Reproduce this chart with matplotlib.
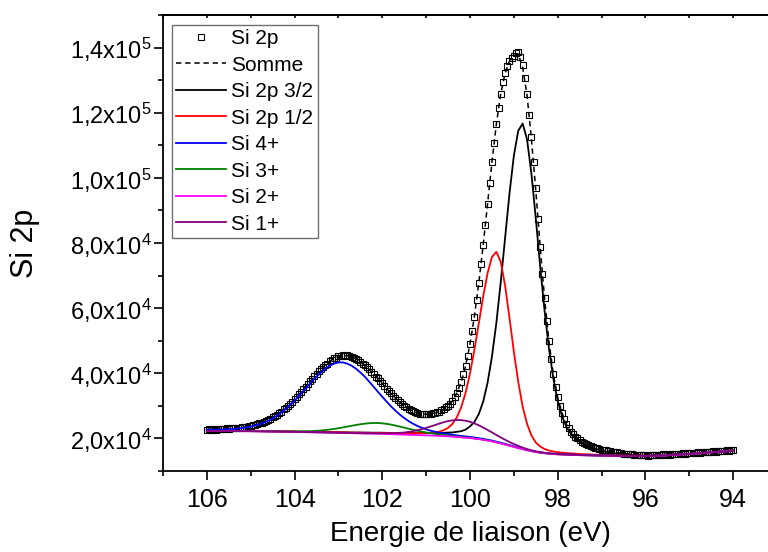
import numpy as np
import matplotlib
matplotlib.use("Agg")
import matplotlib.pyplot as plt
from matplotlib.ticker import MultipleLocator, FuncFormatter

plt.rcParams['font.family'] = ['Liberation Sans', 'DejaVu Sans']
plt.rcParams['mathtext.fontset'] = 'custom'
plt.rcParams['mathtext.rm'] = 'Liberation Sans'
plt.rcParams['mathtext.default'] = 'regular'

# measured spectrum, 106 -> 94 eV, step 0.05 eV (counts / 1000)
si2p_data = [
    22.6,
    22.8, 22.7, 22.9, 22.7, 22.8, 23.0, 22.8, 22.9, 23.1, 22.9, 23.1, 23.2, 23.1, 23.3, 23.2, 23.5, 23.5, 23.6, 23.8, 23.8,
    24.1, 24.1, 24.4, 24.6, 24.8, 25.1, 25.4, 25.7, 26.0, 26.5, 26.8, 27.3, 27.8, 28.2, 28.9, 29.4, 30.0, 30.7, 31.3, 32.1,
    32.7, 33.5, 34.2, 35.1, 35.8, 36.6, 37.5, 38.2, 39.1, 39.7, 40.6, 41.2, 41.9, 42.6, 43.0, 43.7, 44.1, 44.6, 44.8, 45.2,
    45.3, 45.5, 45.3, 45.5, 45.2, 45.1, 44.7, 44.5, 44.0, 43.6, 43.0, 42.6, 41.8, 41.3, 40.5, 39.9, 39.0, 38.4, 37.5, 36.9,
    36.0, 35.3, 34.6, 33.8, 33.0, 32.4, 31.7, 31.1, 30.5, 30.0, 29.5, 29.1, 28.6, 28.4, 28.0, 27.9, 27.6, 27.5, 27.4, 27.4,
    27.5, 27.5, 27.7, 27.8, 28.0, 28.2, 28.6, 28.9, 29.5, 30.1, 30.7, 31.6, 32.6, 34.0, 35.5, 37.4, 39.7, 42.3, 45.4, 49.0,
    53.0, 57.4, 62.4, 67.7, 73.4, 79.3, 85.6, 92.0, 98.5, 104.8, 110.8, 116.4, 121.4, 125.8, 129.3, 132.1, 134.3, 135.8, 136.8, 137.4,
    138.3, 138.5, 137.2, 134.6, 130.6, 125.6, 119.4, 112.4, 104.8, 96.9, 87.5, 78.8, 70.6, 63.0, 56.0, 49.8, 44.4, 39.8, 35.9, 32.7,
    30.0, 27.8, 26.0, 24.4, 23.2, 22.1, 21.3, 20.5, 20.0, 19.5, 19.0, 18.6, 18.3, 18.0, 17.7, 17.5, 17.2, 17.0, 16.8, 16.6,
    16.5, 16.3, 16.1, 16.0, 15.9, 15.7, 15.7, 15.5, 15.5, 15.3, 15.3, 15.2, 15.1, 15.1, 15.0, 15.0, 14.9, 15.0, 14.8, 14.9,
    14.7, 14.9, 14.8, 15.0, 14.9, 15.0, 14.9, 15.1, 15.0, 15.1, 15.0, 15.2, 15.1, 15.2, 15.3, 15.2, 15.4, 15.3, 15.5, 15.4,
    15.6, 15.5, 15.6, 15.7, 15.6, 15.8, 15.7, 15.9, 15.8, 15.9, 16.0, 15.9, 16.1, 16.0, 16.2, 16.1, 16.3, 16.2, 16.4, 16.3,
]

# fit curves, 106 -> 94 eV, step 0.1 eV (counts / 1000)
somme = [
    22.77, 22.79, 22.84, 22.88, 22.96, 23.02, 23.12, 23.24, 23.39, 23.60,
    23.85, 24.17, 24.57, 25.07, 25.69, 26.41, 27.27, 28.28, 29.39, 30.65,
    32.01, 33.49, 35.02, 36.61, 38.23, 39.78, 41.21, 42.54, 43.67, 44.55,
    45.17, 45.47, 45.40, 45.06, 44.45, 43.58, 42.56, 41.23, 39.85, 38.35,
    36.83, 35.30, 33.79, 32.38, 31.11, 29.99, 29.07, 28.34, 27.84, 27.52,
    27.41, 27.50, 27.77, 28.22, 28.94, 30.09, 31.55, 33.97, 37.37, 42.26,
    48.99, 57.40, 67.65, 79.34, 91.98, 104.76, 116.44, 125.77, 132.09, 135.83,
    137.50, 138.00, 134.00, 125.40, 112.00, 96.20, 78.80, 63.00, 49.80, 39.80,
    32.60, 27.70, 24.30, 22.11, 20.51, 19.50, 18.63, 17.96, 17.49, 17.04,
    16.64, 16.29, 16.00, 15.76, 15.54, 15.36, 15.23, 15.12, 15.03, 14.96,
    14.90, 14.92, 14.96, 15.00, 15.03, 15.07, 15.12, 15.20, 15.28, 15.36,
    15.43, 15.52, 15.62, 15.70, 15.79, 15.89, 15.99, 16.07, 16.17, 16.27,
    16.37,
]
si2p_32 = [
    22.37, 22.36, 22.36, 22.35, 22.35, 22.34, 22.33, 22.32, 22.31, 22.30,
    22.29, 22.27, 22.26, 22.24, 22.23, 22.21, 22.20, 22.18, 22.17, 22.15,
    22.13, 22.11, 22.08, 22.06, 22.04, 22.02, 21.99, 21.97, 21.95, 21.93,
    21.90, 21.88, 21.86, 21.84, 21.82, 21.81, 21.79, 21.77, 21.76, 21.76,
    21.75, 21.72, 21.70, 21.67, 21.65, 21.62, 21.63, 21.63, 21.63, 21.64,
    21.66, 21.67, 21.68, 21.67, 21.71, 21.80, 21.84, 22.03, 22.22, 22.71,
    23.70, 25.04, 27.48, 31.28, 37.04, 45.10, 55.38, 67.86, 81.52, 95.16,
    106.80, 114.44, 116.68, 111.86, 101.38, 87.60, 72.82, 59.24, 47.60, 38.40,
    31.50, 26.75, 23.50, 21.45, 19.90, 18.95, 18.12, 17.49, 17.06, 16.63,
    16.25, 15.93, 15.66, 15.44, 15.24, 15.08, 14.96, 14.86, 14.79, 14.73,
    14.68, 14.71, 14.75, 14.80, 14.85, 14.90, 14.97, 15.05, 15.13, 15.21,
    15.29, 15.38, 15.48, 15.58, 15.67, 15.77, 15.87, 15.97, 16.07, 16.17,
    16.26,
]
si2p_12 = [
    22.35, 22.34, 22.34, 22.33, 22.33, 22.32, 22.31, 22.30, 22.29, 22.28,
    22.26, 22.25, 22.23, 22.21, 22.20, 22.18, 22.16, 22.14, 22.12, 22.11,
    22.09, 22.07, 22.04, 22.02, 21.99, 21.97, 21.94, 21.92, 21.89, 21.87,
    21.85, 21.83, 21.80, 21.78, 21.76, 21.75, 21.73, 21.71, 21.70, 21.69,
    21.68, 21.66, 21.63, 21.61, 21.59, 21.58, 21.58, 21.58, 21.60, 21.63,
    21.68, 21.74, 21.87, 22.10, 22.53, 23.25, 24.46, 26.48, 29.60, 34.04,
    39.94, 47.22, 55.34, 63.53, 70.70, 75.70, 77.28, 74.25, 66.96, 57.04,
    46.65, 37.34, 29.84, 24.51, 20.94, 18.76, 17.52, 16.74, 16.28, 16.00,
    15.77, 15.63, 15.51, 15.41, 15.32, 15.22, 15.16, 15.10, 15.04, 14.99,
    14.94, 14.90, 14.86, 14.82, 14.79, 14.76, 14.74, 14.72, 14.70, 14.68,
    14.67, 14.71, 14.75, 14.80, 14.84, 14.89, 14.96, 15.04, 15.12, 15.20,
    15.27, 15.37, 15.47, 15.56, 15.66, 15.76, 15.86, 15.96, 16.06, 16.15,
    16.25,
]
si4 = [
    22.62, 22.64, 22.67, 22.71, 22.76, 22.82, 22.92, 23.03, 23.18, 23.38,
    23.64, 23.95, 24.34, 24.83, 25.43, 26.14, 26.98, 27.97, 29.06, 30.29,
    31.62, 33.05, 34.53, 36.03, 37.54, 38.97, 40.27, 41.41, 42.33, 42.97,
    43.33, 43.34, 42.97, 42.33, 41.41, 40.24, 38.98, 37.45, 35.91, 34.32,
    32.78, 31.28, 29.83, 28.52, 27.32, 26.26, 25.32, 24.52, 23.85, 23.27,
    22.79, 22.39, 22.05, 21.77, 21.53, 21.35, 21.12, 20.94, 20.76, 20.61,
    20.46, 20.27, 20.08, 19.86, 19.60, 19.35, 19.01, 18.68, 18.33, 17.96,
    17.59, 17.22, 16.85, 16.52, 16.24, 15.95, 15.76, 15.58, 15.43, 15.33,
    15.22, 15.17, 15.11, 15.06, 15.00, 14.95, 14.92, 14.88, 14.85, 14.82,
    14.79, 14.76, 14.74, 14.72, 14.69, 14.67, 14.66, 14.65, 14.63, 14.62,
    14.61, 14.66, 14.71, 14.76, 14.80, 14.85, 14.93, 15.01, 15.09, 15.17,
    15.25, 15.35, 15.45, 15.54, 15.64, 15.74, 15.84, 15.94, 16.04, 16.14,
    16.24,
]
si3 = [
    22.32, 22.31, 22.30, 22.29, 22.29, 22.28, 22.27, 22.26, 22.25, 22.25,
    22.24, 22.22, 22.20, 22.19, 22.17, 22.16, 22.15, 22.14, 22.13, 22.13,
    22.14, 22.14, 22.16, 22.20, 22.26, 22.33, 22.43, 22.57, 22.73, 22.92,
    23.14, 23.38, 23.63, 23.88, 24.13, 24.35, 24.53, 24.67, 24.74, 24.73,
    24.64, 24.47, 24.24, 23.95, 23.64, 23.31, 22.98, 22.67, 22.37, 22.09,
    21.84, 21.60, 21.39, 21.21, 21.05, 20.91, 20.74, 20.59, 20.45, 20.31,
    20.18, 20.01, 19.84, 19.63, 19.39, 19.14, 18.82, 18.50, 18.16, 17.80,
    17.43, 17.07, 16.71, 16.39, 16.11, 15.83, 15.65, 15.47, 15.33, 15.23,
    15.13, 15.07, 15.02, 14.97, 14.92, 14.87, 14.84, 14.81, 14.78, 14.75,
    14.72, 14.70, 14.68, 14.66, 14.64, 14.62, 14.61, 14.60, 14.59, 14.58,
    14.57, 14.62, 14.67, 14.72, 14.77, 14.82, 14.89, 14.97, 15.05, 15.13,
    15.21, 15.31, 15.41, 15.51, 15.61, 15.71, 15.81, 15.91, 16.01, 16.11,
    16.21,
]
si2 = [
    22.30, 22.29, 22.28, 22.27, 22.26, 22.25, 22.24, 22.23, 22.22, 22.21,
    22.20, 22.18, 22.16, 22.14, 22.12, 22.10, 22.08, 22.06, 22.04, 22.02,
    22.00, 21.97, 21.94, 21.91, 21.88, 21.85, 21.82, 21.79, 21.76, 21.73,
    21.70, 21.67, 21.64, 21.61, 21.58, 21.55, 21.52, 21.49, 21.46, 21.43,
    21.40, 21.35, 21.30, 21.25, 21.20, 21.15, 21.11, 21.07, 21.03, 20.99,
    20.95, 20.89, 20.83, 20.77, 20.71, 20.65, 20.54, 20.43, 20.32, 20.21,
    20.10, 19.94, 19.78, 19.58, 19.34, 19.10, 18.78, 18.46, 18.12, 17.76,
    17.40, 17.04, 16.68, 16.36, 16.08, 15.80, 15.62, 15.44, 15.30, 15.20,
    15.10, 15.05, 15.00, 14.95, 14.90, 14.85, 14.82, 14.79, 14.76, 14.73,
    14.70, 14.68, 14.66, 14.64, 14.62, 14.60, 14.59, 14.58, 14.57, 14.56,
    14.55, 14.60, 14.65, 14.70, 14.75, 14.80, 14.88, 14.96, 15.04, 15.12,
    15.20, 15.30, 15.40, 15.50, 15.60, 15.70, 15.80, 15.90, 16.00, 16.10,
    16.20,
]
si1 = [
    22.31, 22.30, 22.29, 22.28, 22.27, 22.26, 22.25, 22.25, 22.24, 22.23,
    22.22, 22.20, 22.18, 22.16, 22.14, 22.12, 22.10, 22.09, 22.07, 22.05,
    22.03, 22.00, 21.97, 21.94, 21.92, 21.89, 21.86, 21.83, 21.81, 21.78,
    21.75, 21.72, 21.70, 21.67, 21.65, 21.63, 21.61, 21.59, 21.58, 21.57,
    21.58, 21.57, 21.59, 21.63, 21.71, 21.82, 22.00, 22.22, 22.51, 22.85,
    23.24, 23.66, 24.10, 24.55, 24.96, 25.33, 25.55, 25.65, 25.62, 25.43,
    25.11, 24.62, 24.03, 23.36, 22.61, 21.87, 21.07, 20.32, 19.60, 18.91,
    18.29, 17.71, 17.19, 16.74, 16.37, 16.02, 15.80, 15.58, 15.42, 15.30,
    15.19, 15.13, 15.07, 15.01, 14.96, 14.90, 14.87, 14.83, 14.80, 14.77,
    14.74, 14.72, 14.69, 14.67, 14.65, 14.63, 14.62, 14.61, 14.60, 14.58,
    14.57, 14.62, 14.67, 14.72, 14.77, 14.82, 14.89, 14.97, 15.05, 15.13,
    15.21, 15.31, 15.41, 15.51, 15.61, 15.71, 15.81, 15.91, 16.01, 16.11,
    16.21,
]

e_data = np.linspace(106, 94, len(si2p_data))
e_fit = np.linspace(106, 94, len(somme))

fig = plt.figure(figsize=(7.68, 5.52), dpi=100)
ax = fig.add_axes([163 / 768, 1 - 471 / 552, 614 / 768, 456 / 552])

ax.plot(e_data, np.array(si2p_data) * 1e3, ls='none', marker='s', ms=5, mfc='none',
        mec='black', mew=0.8, label='Si 2p')
ax.plot(e_fit, np.array(somme) * 1e3, color='black', ls=(0, (3.5, 2.5)), lw=1.1, label='Somme')
ax.plot(e_fit, np.array(si2p_32) * 1e3, color='black', lw=1.3, label='Si 2p 3/2')
ax.plot(e_fit, np.array(si2p_12) * 1e3, color='red', lw=1.3, label='Si 2p 1/2')
ax.plot(e_fit, np.array(si4) * 1e3, color='blue', lw=1.3, label='Si 4+')
ax.plot(e_fit, np.array(si3) * 1e3, color='green', lw=1.3, label='Si 3+')
ax.plot(e_fit, np.array(si2) * 1e3, color='magenta', lw=1.3, label='Si 2+')
ax.plot(e_fit, np.array(si1) * 1e3, color='purple', lw=1.3, label='Si 1+')

ax.set_xlim(107, 93)
ax.set_ylim(1e4, 1.5e5)
ax.xaxis.set_major_locator(MultipleLocator(2))
ax.xaxis.set_minor_locator(MultipleLocator(1))
ax.yaxis.set_major_locator(MultipleLocator(2e4))
ax.yaxis.set_minor_locator(MultipleLocator(1e4))


def sci_comma(v, pos):
    if v <= 0:
        return ''
    e = int(np.floor(np.log10(v) + 1e-9))
    m = round(v / 10 ** e, 1)
    a, b = ('%.1f' % m).split('.')
    return r'$%s{,}%sx10^{%d}$' % (a, b, e)


ax.yaxis.set_major_formatter(FuncFormatter(sci_comma))
ax.tick_params(axis='both', which='major', direction='out', length=6.5, width=1.2)
ax.tick_params(axis='both', which='minor', direction='out', length=3.6, width=1.2)
ax.tick_params(axis='y', labelsize=17, pad=1.5)
ax.tick_params(axis='x', labelsize=18, pad=6)
ax.spines['right'].set_visible(False)
for s in ['left', 'bottom', 'top']:
    ax.spines[s].set_linewidth(1.3)

top = ax.secondary_xaxis('top')
top.xaxis.set_major_locator(MultipleLocator(2))
top.xaxis.set_minor_locator(MultipleLocator(1))
top.tick_params(which='both', direction='in', length=2, width=1.2, labeltop=False)
top.spines['top'].set_linewidth(1.3)

ax.set_xlabel('Energie de liaison (eV)', fontsize=20, va='baseline')
ax.xaxis.set_label_coords(0.5, (471 - 541) / 456)
ax.set_ylabel('Si 2p', fontsize=22, va='center')
ax.yaxis.set_label_coords((25 - 163) / 614, 0.5)

leg = ax.legend(loc='upper left', bbox_to_anchor=(9 / 614, 1 - 10 / 456), borderaxespad=0,
                fontsize=15, numpoints=1, handlelength=2.4, handletextpad=0.25,
                labelspacing=0.36, borderpad=0.2, fancybox=False, framealpha=1)
leg.get_frame().set_edgecolor('#707070')
leg.get_frame().set_linewidth(1.0)

fig.savefig('out.png', dpi=100)
